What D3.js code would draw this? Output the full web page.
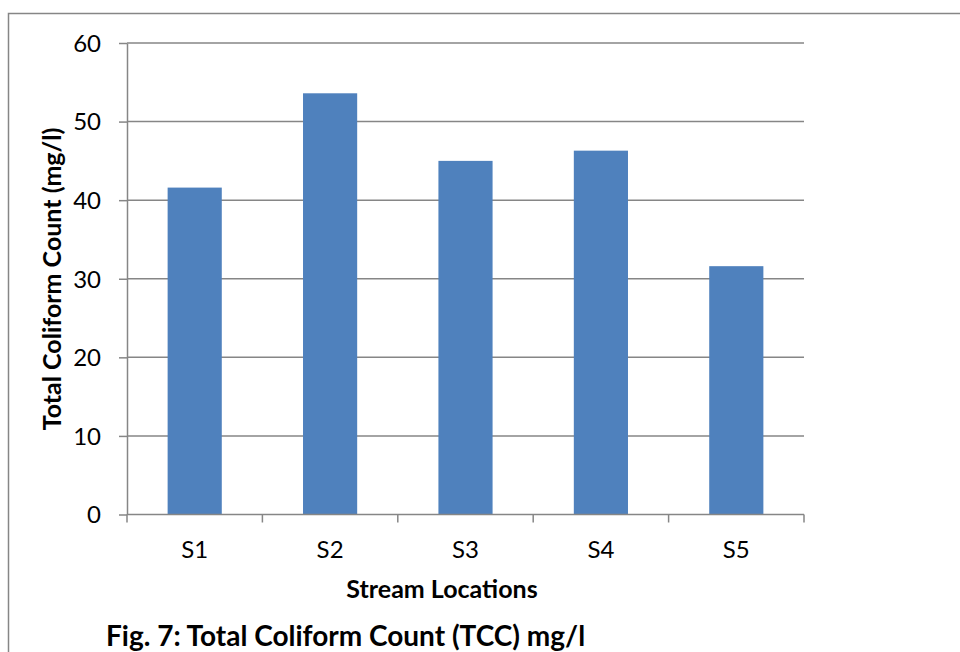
<!DOCTYPE html>
<html>
<head>
<meta charset="utf-8">
<script src="https://cdn.jsdelivr.net/npm/d3@7/dist/d3.min.js"></script>
<style>
  html, body { margin: 0; padding: 0; background: #fff; }
  svg { display: block; }
  text { font-family: Lato, "Open Sans", "Liberation Sans", sans-serif; fill: #000; }
</style>
</head>
<body>
<svg id="chart" width="960" height="652"></svg>
<script>
// Stream sampling locations and total coliform counts (mg/l)
const locations = ["S1", "S2", "S3", "S4", "S5"];
const tccValues = [41.6, 53.6, 45.0, 46.3, 31.6];
const yTicks = [0, 10, 20, 30, 40, 50, 60];

const svg = d3.select("#chart");
const grey = "#868686";
const barColor = "#4F81BD";

// Outer chart frame
svg.append("rect")
  .attr("x", 8.5).attr("y", 13.5)
  .attr("width", 1000).attr("height", 700)
  .attr("fill", "none")
  .attr("stroke", grey)
  .attr("stroke-width", 1.5);

const plot = { left: 127, right: 804, top: 43, bottom: 514.5 };

const x = d3.scaleBand()
  .domain(locations)
  .range([plot.left, plot.right])
  .paddingInner(0.6)
  .paddingOuter(0.3);

const y = d3.scaleLinear()
  .domain([0, 60])
  .range([plot.bottom, plot.top]);

// Horizontal gridlines
svg.append("g")
  .selectAll("line")
  .data(yTicks.filter(d => d > 0))
  .join("line")
  .attr("x1", plot.left).attr("x2", plot.right)
  .attr("y1", d => y(d)).attr("y2", d => y(d))
  .attr("stroke", grey)
  .attr("stroke-width", 1.5);

// Bars
svg.append("g")
  .selectAll("rect")
  .data(locations.map((loc, i) => ({ loc, v: tccValues[i] })))
  .join("rect")
  .attr("x", d => x(d.loc))
  .attr("y", d => y(d.v))
  .attr("width", x.bandwidth())
  .attr("height", d => y(0) - y(d.v))
  .attr("fill", barColor);

// Y axis
const yAxis = svg.append("g")
  .attr("transform", `translate(${plot.left},0)`)
  .call(d3.axisLeft(y).tickValues(yTicks).tickSize(8).tickPadding(18).tickSizeOuter(0));
yAxis.select(".domain").attr("stroke", grey).attr("stroke-width", 1.5);
yAxis.selectAll(".tick line").attr("stroke", grey).attr("stroke-width", 1.5);
yAxis.selectAll(".tick text")
  .style("font-size", "24px")
  .attr("dy", "0.35em");

// X axis baseline and category boundary ticks
svg.append("line")
  .attr("x1", plot.left).attr("x2", plot.right)
  .attr("y1", plot.bottom).attr("y2", plot.bottom)
  .attr("stroke", grey).attr("stroke-width", 1.5);

const boundaries = d3.range(locations.length + 1)
  .map(i => plot.left + i * (plot.right - plot.left) / locations.length);
svg.append("g")
  .selectAll("line")
  .data(boundaries)
  .join("line")
  .attr("x1", d => d).attr("x2", d => d)
  .attr("y1", plot.bottom).attr("y2", plot.bottom + 8)
  .attr("stroke", grey).attr("stroke-width", 1.5);

// Category labels
svg.append("g")
  .selectAll("text")
  .data(locations)
  .join("text")
  .attr("x", d => x(d) + x.bandwidth() / 2)
  .attr("y", 558)
  .attr("text-anchor", "middle")
  .style("font-size", "24px")
  .text(d => d);

// Axis titles
svg.append("text")
  .attr("x", 442).attr("y", 598)
  .attr("text-anchor", "middle")
  .style("font-size", "25px")
  .style("font-weight", "bold")
  .text("Stream Locations");

svg.append("text")
  .attr("transform", "translate(61,279) rotate(-90)")
  .attr("text-anchor", "middle")
  .style("font-size", "25px")
  .style("font-weight", "bold")
  .text("Total Coliform Count (mg/l)");

// Figure caption
svg.append("text")
  .attr("x", 106).attr("y", 646)
  .style("font-size", "28px")
  .style("font-weight", "bold")
  .text("Fig. 7: Total Coliform Count (TCC) mg/l");
</script>
</body>
</html>
